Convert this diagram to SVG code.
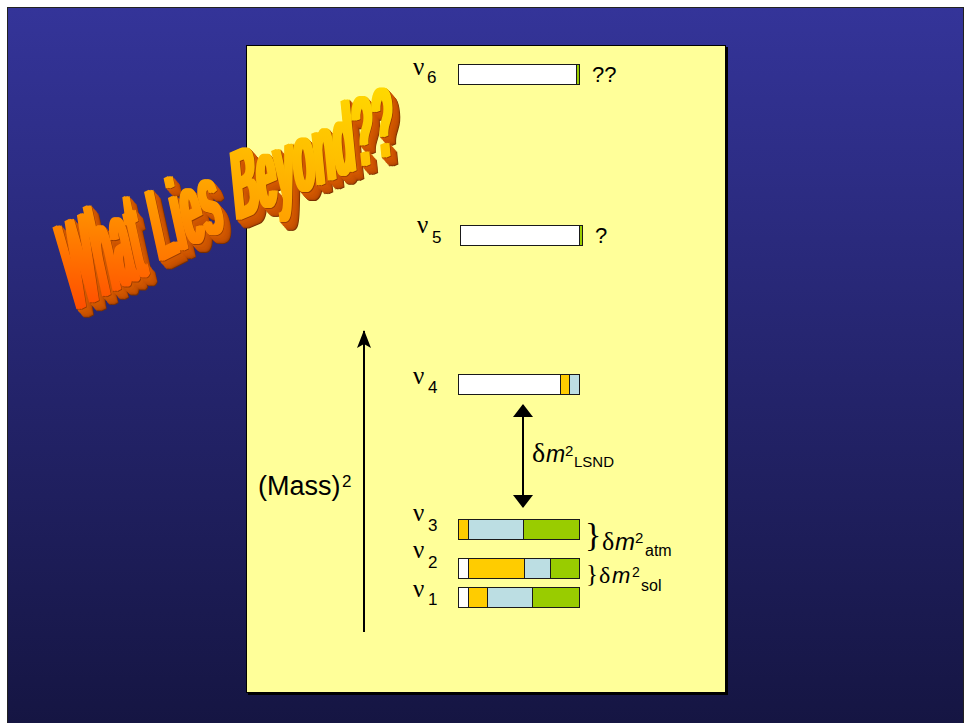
<svg xmlns="http://www.w3.org/2000/svg" width="966" height="723" viewBox="0 0 966 723">
<style>
.seg{stroke:#1a1a1a;stroke-width:1}
.w{fill:#FFFFFF}.y{fill:#FFCC00}.b{fill:#BCDEE3}.g{fill:#99CC00}
.nu{font-family:"Liberation Serif","DejaVu Serif",serif;font-size:25px;fill:#000}
.sub{font-family:"Liberation Sans",Arial,sans-serif;font-size:17px;fill:#000}
.lab{font-family:"Liberation Sans",Arial,sans-serif;fill:#000}
.gr{font-family:"Liberation Serif","DejaVu Serif",serif;fill:#000}
.conn{stroke:#000;stroke-width:2;fill:none}
.wa{font-family:"Liberation Sans",Arial,sans-serif;font-weight:bold}
</style>
<defs>
<linearGradient id="bg" x1="0" y1="0" x2="0" y2="1">
<stop offset="0" stop-color="#343499"/><stop offset="1" stop-color="#151542"/>
</linearGradient>
<linearGradient id="gW" x1="0" y1="1" x2="0.3" y2="0">
<stop offset="0" stop-color="#FF3A00"/><stop offset="1" stop-color="#FF9E00"/>
</linearGradient>
<linearGradient id="gL" x1="0" y1="1" x2="0.3" y2="0">
<stop offset="0" stop-color="#FF6A00"/><stop offset="1" stop-color="#FFB000"/>
</linearGradient>
<linearGradient id="gB" x1="0" y1="1" x2="1" y2="0">
<stop offset="0" stop-color="#FF9400"/><stop offset="0.5" stop-color="#FFC000"/><stop offset="1" stop-color="#FFE000"/>
</linearGradient>
<marker id="tri" viewBox="0 0 13 20" refX="12" refY="10" markerWidth="13" markerHeight="20" markerUnits="userSpaceOnUse" orient="auto-start-reverse">
<path d="M0,0 L13,10 L0,20 Z" fill="#000"/>
</marker>
<marker id="stealth" viewBox="0 0 18 14" refX="17" refY="7" markerWidth="18" markerHeight="14" markerUnits="userSpaceOnUse" orient="auto">
<path d="M0,0 L18,7 L0,14 L4,7 Z" fill="#000"/>
</marker>
<text id="t1" class="wa" transform="matrix(0.25 -0.125 0.22 1 71 312)" font-size="123">What</text>
<text id="t2" class="wa" transform="matrix(0.33 -0.165 0.22 1 157 262)" font-size="100">Lies</text>
<text id="t3" class="wa" transform="matrix(0.335 -0.144 0.1 1 234 221)" font-size="98">Beyond??</text>
<g id="wa0"><use href="#t1"/><use href="#t2"/><use href="#t3"/></g>
<g id="wa"><use href="#wa0"/><use href="#wa0" x="1.5"/><use href="#wa0" x="3"/><use href="#wa0" x="4.5"/></g>
<g id="waF0"><use href="#t1" fill="url(#gW)"/><use href="#t2" fill="url(#gL)"/><use href="#t3" fill="url(#gB)"/></g>
</defs>

<rect x="0" y="0" width="966" height="723" fill="#FFFFFF"/>
<rect x="7.5" y="7.5" width="956" height="720" fill="url(#bg)" stroke="#222" stroke-width="1"/>

<g id="panel">
<rect x="248" y="47" width="480" height="648" fill="#000"/>
<rect x="246.5" y="45.5" width="479" height="647" fill="#FFFF99" stroke="#000" stroke-width="1"/>
</g>

<g id="nu6">
<text class="nu" x="413" y="75">ν</text><text class="sub" x="427" y="83">6</text>
<rect class="seg w" x="458.5" y="64.5" width="118" height="20"/>
<rect class="seg g" x="576.5" y="64.5" width="3" height="20"/>
<text class="lab" x="592" y="82" font-size="22">??</text>
</g>

<g id="nu5">
<text class="nu" x="417" y="233">ν</text><text class="sub" x="432" y="243">5</text>
<rect class="seg w" x="460.5" y="225.5" width="119" height="20"/>
<rect class="seg g" x="579.5" y="225.5" width="3" height="20"/>
<text class="lab" x="595" y="243" font-size="22">?</text>
</g>

<g id="nu4">
<text class="nu" x="413" y="384">ν</text><text class="sub" x="428" y="393">4</text>
<rect class="seg w" x="458.5" y="374.5" width="102" height="20"/>
<rect class="seg y" x="560.5" y="374.5" width="9" height="20"/>
<rect class="seg b" x="569.5" y="374.5" width="10" height="20"/>
</g>

<g id="nu3">
<text class="nu" x="413" y="521">ν</text><text class="sub" x="428" y="531">3</text>
<rect class="seg y" x="458.5" y="519.5" width="10" height="20"/>
<rect class="seg b" x="468.5" y="519.5" width="55" height="20"/>
<rect class="seg g" x="523.5" y="519.5" width="56" height="20"/>
</g>

<g id="nu2">
<text class="nu" x="413" y="558">ν</text><text class="sub" x="428" y="568">2</text>
<rect class="seg w" x="458.5" y="558.5" width="10" height="20"/>
<rect class="seg y" x="468.5" y="558.5" width="56" height="20"/>
<rect class="seg b" x="524.5" y="558.5" width="26" height="20"/>
<rect class="seg g" x="550.5" y="558.5" width="29" height="20"/>
</g>

<g id="nu1">
<text class="nu" x="413" y="597">ν</text><text class="sub" x="428" y="605">1</text>
<rect class="seg w" x="458.5" y="587.5" width="10" height="20"/>
<rect class="seg y" x="468.5" y="587.5" width="19" height="20"/>
<rect class="seg b" x="487.5" y="587.5" width="45" height="20"/>
<rect class="seg g" x="532.5" y="587.5" width="47" height="20"/>
</g>

<g id="connectors">
<line class="conn" x1="364" y1="632" x2="364" y2="331" marker-end="url(#stealth)"/>
<line class="conn" x1="523" y1="405" x2="523" y2="507" marker-start="url(#tri)" marker-end="url(#tri)"/>
</g>

<g id="mass-label">
<text class="lab" x="258" y="495" font-size="27">(Mass)</text>
<text class="lab" x="342" y="487" font-size="17">2</text>
</g>

<g id="lsnd-label">
<text class="gr" x="532" y="462" font-size="28">δ</text>
<text class="lab" x="546" y="462" font-size="23" font-style="italic">m</text>
<text class="lab" x="565" y="456" font-size="15">2</text>
<text class="lab" x="574" y="467" font-size="15">LSND</text>
</g>

<g id="atm-label">
<text class="gr" x="585" y="546" font-size="34">}</text>
<text class="gr" x="602" y="550" font-size="26">δ</text>
<text class="lab" x="615" y="550" font-size="24" font-style="italic">m</text>
<text class="lab" x="635" y="543" font-size="15">2</text>
<text class="lab" x="645" y="556" font-size="16">atm</text>
</g>

<g id="sol-label">
<text class="gr" x="586" y="582" font-size="25">}</text>
<text class="gr" x="599" y="583" font-size="24">δ</text>
<text class="lab" x="612" y="583" font-size="22" font-style="italic">m</text>
<text class="lab" x="632" y="577" font-size="14">2</text>
<text class="lab" x="641" y="591" font-size="16">sol</text>
</g>

<g id="wordart">
<use href="#wa" x="7.7" y="8.8" fill="#7A3000"/>
<use href="#wa" x="7" y="8" fill="#B04600"/>
<use href="#wa" x="6.3" y="7.2" fill="#BE4C00"/>
<use href="#wa" x="5.6" y="6.4" fill="#C45000"/>
<use href="#wa" x="4.9" y="5.6" fill="#C85200"/>
<use href="#wa" x="4.2" y="4.8" fill="#CC5400"/>
<use href="#wa" x="3.5" y="4" fill="#CC5400"/>
<use href="#wa" x="2.8" y="3.2" fill="#D05800"/>
<use href="#wa" x="2.1" y="2.4" fill="#D05800"/>
<use href="#wa" x="1.4" y="1.6" fill="#D45A00"/>
<use href="#wa" x="0.7" y="0.8" fill="#9A3C00"/>
<use href="#waF0"/>
<use href="#waF0" x="1.5"/>
<use href="#waF0" x="3"/>
<use href="#waF0" x="4.5"/>
</g>
</svg>
